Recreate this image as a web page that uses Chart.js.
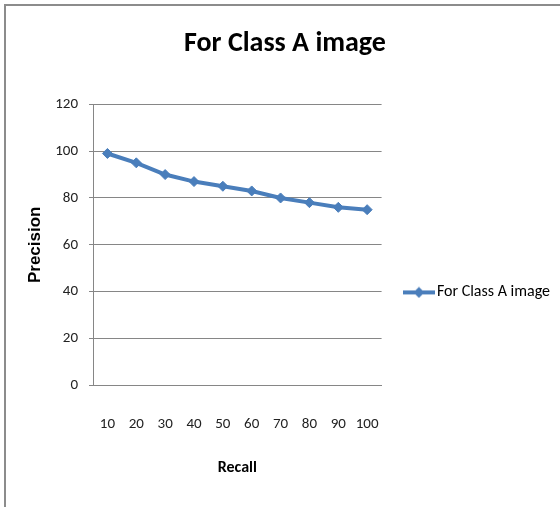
<!DOCTYPE html>
<html>
<head>
<meta charset="utf-8">
<script src="https://cdn.jsdelivr.net/npm/chart.js@4.4.0/dist/chart.umd.min.js"></script>
<style>
  html, body { margin: 0; padding: 0; background: #ffffff; }
  #wrap { position: relative; width: 560px; height: 507px; overflow: hidden; }
  #frame { position: absolute; left: 4px; top: 4px; width: 600px; height: 600px;
           border-top: 2px solid #8c8c8c; border-left: 2px solid #8c8c8c; }
  #c { position: absolute; left: 0; top: 0; }
</style>
</head>
<body>
<div id="wrap">
  <div id="frame"></div>
  <canvas id="c" width="560" height="507"></canvas>
</div>
<script>
// ---- data ----
const chartTitle = 'For Class A image';
const seriesName = 'For Class A image';
const categories = ['10', '20', '30', '40', '50', '60', '70', '80', '90', '100'];
const precision = [99, 95, 90, 87, 85, 83, 80, 78, 76, 75];
const yMin = 0, yMax = 120, yStep = 20;
const xAxisTitle = 'Recall';
const yAxisTitle = 'Precision';

const blue = '#4A7EBB';
const gridGray = '#868686';
const calibri = "Carlito, Calibri, 'Liberation Sans', sans-serif";

// legend marker: line with diamond
const marker = document.createElement('canvas');
marker.width = 32; marker.height = 12;
(function () {
  const g = marker.getContext('2d');
  g.strokeStyle = blue; g.lineWidth = 4;
  g.beginPath(); g.moveTo(0, 6); g.lineTo(32, 6); g.stroke();
  g.fillStyle = blue;
  g.beginPath(); g.moveTo(16, 0.5); g.lineTo(21.5, 6); g.lineTo(16, 11.5); g.lineTo(10.5, 6); g.closePath(); g.fill();
})();

const legendShift = {
  id: 'legendShift',
  afterLayout(chart) {
    const L = chart.legend;
    if (!L) return;
    const h = L.bottom - L.top;
    L.top = 294 - 9.6 - L.options.labels.padding;
    L.bottom = L.top + h;
  }
};

new Chart(document.getElementById('c'), {
  type: 'line',
  data: {
    labels: categories,
    datasets: [{
      label: seriesName,
      data: precision,
      borderColor: blue,
      backgroundColor: blue,
      borderWidth: 4,
      tension: 0,
      pointStyle: 'rectRot',
      pointRadius: 5,
      pointHoverRadius: 5,
      pointBackgroundColor: blue,
      pointBorderColor: blue,
      pointBorderWidth: 1
    }]
  },
  options: {
    responsive: false,
    animation: false,
    devicePixelRatio: 1,
    layout: { padding: { left: 10, right: 0, top: 0, bottom: 0 } },
    plugins: {
      title: {
        display: true,
        text: chartTitle,
        color: '#000',
        font: { family: calibri, size: 28, weight: 'bold' },
        padding: { top: 27.2, bottom: 43.5 }
      },
      legend: {
        display: true,
        position: 'right',
        align: 'start',
        maxWidth: 240,
        labels: {
          usePointStyle: true,
          pointStyle: marker,
          pointStyleWidth: 20,
          padding: 27.3,
          color: '#000',
          font: { family: calibri, size: 16 }
        }
      },
      tooltip: { enabled: false }
    },
    scales: {
      x: {
        type: 'category',
        offset: true,
        grid: { display: false, drawTicks: false },
        border: { display: true, color: gridGray, width: 1 },
        ticks: { color: '#222', padding: 30, maxRotation: 0, autoSkip: false,
                 font: { family: calibri, size: 15 } },
        title: { display: true, text: xAxisTitle, color: '#000',
                 font: { family: calibri, size: 16, weight: 'bold' },
                 padding: { top: 0, bottom: 29 } },
        afterFit(s) { s.height = 507 - 385.3; }
      },
      y: {
        min: yMin, max: yMax,
        ticks: { stepSize: yStep, color: '#222', padding: 11,
                 font: { family: calibri, size: 15 } },
        grid: { color: gridGray, lineWidth: 1, drawTicks: true, tickLength: 4 },
        border: { display: true, color: gridGray, width: 1 },
        title: { display: true, text: yAxisTitle, color: '#000',
                 font: { family: "'Liberation Sans', Arial, sans-serif", size: 17, weight: 'bold' },
                 padding: { top: 14.8, bottom: 0 } },
        afterFit(s) { s.width = 83; }
      }
    }
  },
  plugins: [legendShift]
});
</script>
</body>
</html>
